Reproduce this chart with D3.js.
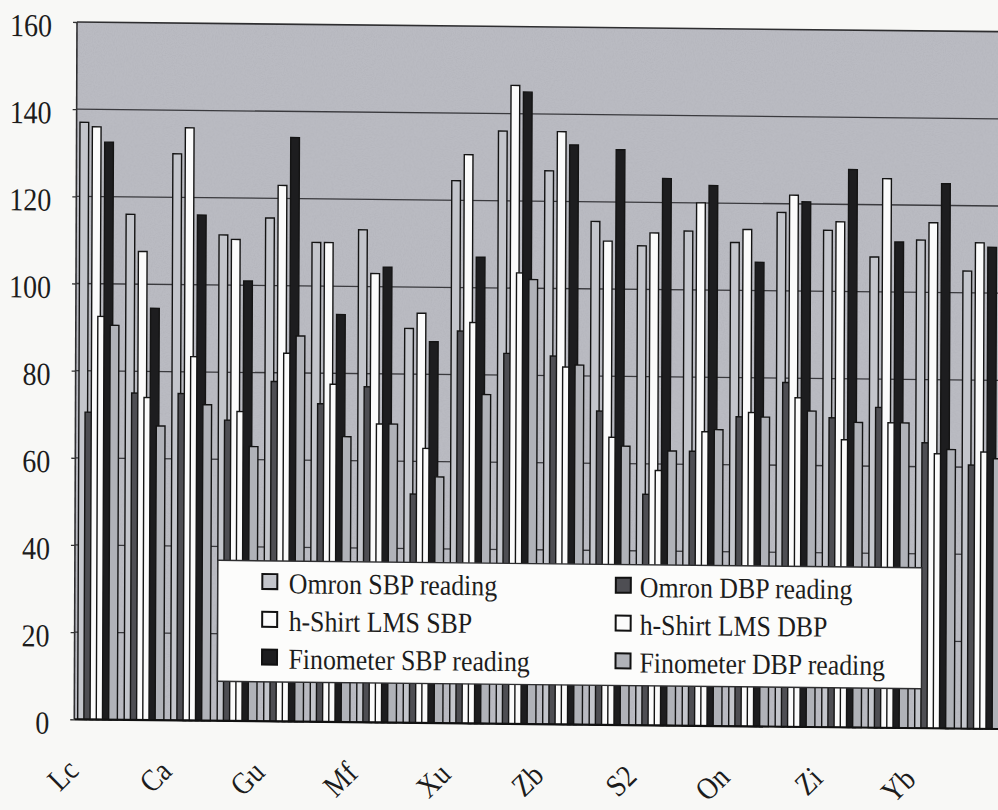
<!DOCTYPE html>
<html>
<head>
<meta charset="utf-8">
<script src="https://cdn.jsdelivr.net/npm/d3@7"></script>
<style>
  html, body { margin: 0; padding: 0; background: #f8f8f6; }
  svg { display: block; }
  svg text { font-family: "Liberation Serif", "DejaVu Serif", serif; fill: #1c1c1c; }
</style>
</head>
<body>
<svg id="chart" width="998" height="810" font-family="Liberation Serif"></svg>
<script>
// Subjects: every other category label is printed on the axis
const tickLabels = ["Lc", null, "Ca", null, "Gu", null, "Mf", null, "Xu", null,
                    "Zb", null, "S2", null, "On", null, "Zi", null, "Yb", null];

const seriesNames = ["Omron SBP reading", "Omron DBP reading",
                     "h-Shirt LMS SBP", "h-Shirt LMS DBP",
                     "Finometer SBP reading", "Finometer DBP reading"];

// Blood pressure readings (mmHg), one value per subject
const omronSBP  = [137, 116, 130, 111.5, 115.5, 110, 113, 90.5, 124.5, 136, 127, 115.5, 110, 113.5, 111, 118, 114, 108, 112, 105];
const omronDBP  = [70.5, 75, 75, 69, 78, 73, 77, 52.5, 90, 85, 84.5, 72, 53, 63, 71, 79, 71, 73.5, 65.5, 60.5];
const hshirtSBP = [136, 107.5, 136, 110.5, 123, 110, 103, 94, 130.5, 146.5, 136, 111, 113, 120, 114, 122, 116, 126, 116, 111.5];
const hshirtDBP = [92.5, 74, 83.5, 71, 84.5, 77.5, 68.5, 63, 92, 103.5, 82, 66, 58.5, 67.5, 72, 75.5, 66, 70, 63, 63.5];
const finoSBP   = [132.5, 94.5, 116, 101, 134, 93.5, 104.5, 87.5, 107, 145, 133, 132, 125.5, 124, 106.5, 120.5, 128, 111.5, 125, 110.5];
const finoDBP   = [90.5, 67.5, 72.5, 63, 88.5, 65.5, 68.5, 56.5, 75.5, 102, 82.5, 64, 63, 68, 71, 72.5, 70, 70, 64, 62];

const yTicks = [0, 20, 40, 60, 80, 100, 120, 140, 160];

const series = [omronSBP, omronDBP, hshirtSBP, hshirtDBP, finoSBP, finoDBP];
const fills  = ["#c3c5cb", "#4e4e53", "#fbfbfb", "#fbfbfb", "#1d1d1f", "#b0b2b8"];

// ---- layout ----
const plotLeft = 77, plotTop = 22, plotBottom = 719.3, catW = 46.5, nCat = tickLabels.length;
const serif = "'Liberation Serif', 'DejaVu Serif', serif";
const squeeze = 0.875;   // narrow the serif face horizontally

const svg = d3.select("#chart");

// fine grain for the plot-area fill
const defs = svg.append("defs");
const grain = defs.append("filter").attr("id", "grain").attr("x", 0).attr("y", 0).attr("width", 1).attr("height", 1);
grain.append("feTurbulence").attr("type", "fractalNoise").attr("baseFrequency", 0.9).attr("numOctaves", 2).attr("seed", 4).attr("result", "n");
grain.append("feColorMatrix").attr("in", "n").attr("type", "matrix")
  .attr("values", "0 0 0 0 0.3  0 0 0 0 0.3  0 0 0 0 0.33  0 0 0 -1.1 0.65");

// whole figure sits with a slight skew
const g = svg.append("g")
  .attr("transform", `translate(${plotLeft},${plotTop}) matrix(1,0.0105,-0.0039,1,0,0) translate(${-plotLeft},${-plotTop})`);

const x = d3.scaleBand().domain(d3.range(nCat)).range([plotLeft, plotLeft + nCat * catW]).padding(0);
const y = d3.scaleLinear().domain([0, 160]).range([plotBottom, plotTop]);
const bw = x.bandwidth();
// overlapping clustered columns inside each category
const sub = d3.scaleLinear().domain([0, 5]).range([bw * 0.073, bw * (0.073 + 5 * 0.1333)]);
const barW = bw * 0.187;
const plotRight = x.range()[1] + 10;

// plot area
g.append("rect")
  .attr("x", plotLeft).attr("y", y(160))
  .attr("width", plotRight - plotLeft).attr("height", y(0) - y(160))
  .attr("fill", "#babbc2");
g.append("rect")
  .attr("x", plotLeft).attr("y", y(160))
  .attr("width", plotRight - plotLeft).attr("height", y(0) - y(160))
  .attr("filter", "url(#grain)").attr("opacity", 0.35);

// horizontal gridlines
g.append("g").selectAll("line")
  .data(yTicks.filter(v => v > 0 && v < 160))
  .join("line")
  .attr("x1", plotLeft).attr("x2", plotRight)
  .attr("y1", d => y(d)).attr("y2", d => y(d))
  .attr("stroke", "#3a3a3e").attr("stroke-width", 1.3);

// frame: top and left edges
g.append("line").attr("x1", plotLeft).attr("x2", plotRight).attr("y1", y(160)).attr("y2", y(160))
  .attr("stroke", "#2e2e30").attr("stroke-width", 1.6);
g.append("line").attr("x1", plotLeft).attr("x2", plotLeft).attr("y1", y(160)).attr("y2", y(0))
  .attr("stroke", "#2e2e30").attr("stroke-width", 1.6);

// bars, series drawn in order so later ones overlap earlier ones
series.forEach((vals, si) => {
  g.append("g").selectAll("rect")
    .data(vals)
    .join("rect")
    .attr("x", (d, i) => x(i) + sub(si))
    .attr("y", d => y(d))
    .attr("width", barW)
    .attr("height", d => y(0) - y(d))
    .attr("fill", fills[si])
    .attr("stroke", "#141414")
    .attr("stroke-width", 1.4);
});

// baseline
g.append("line").attr("x1", plotLeft).attr("x2", plotRight).attr("y1", y(0)).attr("y2", y(0))
  .attr("stroke", "#111").attr("stroke-width", 2.2);

// y axis
const yAxis = g.append("g").attr("transform", `translate(${plotLeft},0)`)
  .call(d3.axisLeft(y).tickValues(yTicks).tickSize(4).tickPadding(21))
  .attr("font-family", serif).attr("font-size", 32);
yAxis.select(".domain").remove();
yAxis.selectAll(".tick line").attr("stroke", "#333").attr("stroke-width", 1.3);
yAxis.selectAll(".tick text")
  .attr("x", -25 / squeeze)
  .attr("dy", "0.44em")
  .attr("transform", `scale(${squeeze},1)`)
  .attr("fill", "#1c1c1c");

// x axis labels, rotated
const xAxis = g.append("g").attr("transform", `translate(0,${y(0)})`)
  .call(d3.axisBottom(x).tickSize(0).tickFormat(i => tickLabels[i] ?? ""))
  .attr("font-family", serif).attr("font-size", 31);
xAxis.select(".domain").remove();
xAxis.selectAll(".tick text")
  .attr("x", 0).attr("y", 0).attr("dy", 0)
  .attr("text-anchor", "end")
  .attr("transform", `translate(-17,53) rotate(-45) scale(${squeeze},1)`)
  .attr("fill", "#1c1c1c");

// legend
const legend = g.append("g").attr("font-family", serif).attr("font-size", 29);
legend.append("rect")
  .attr("x", 220).attr("y", 558.8).attr("width", 704).attr("height", 121)
  .attr("fill", "#fcfcfb").attr("stroke", "#2e2e30").attr("stroke-width", 1.4);

const colX = [264.5, 618], textX = [291, 642], rowY0 = 579.5, rowStep = 37.8;
seriesNames.forEach((name, k) => {
  const col = k % 2, row = Math.floor(k / 2);
  const cy = rowY0 + row * rowStep;
  legend.append("rect")
    .attr("x", colX[col]).attr("y", cy - 7.5)
    .attr("width", 15).attr("height", 15)
    .attr("fill", fills[k]).attr("stroke", "#111").attr("stroke-width", 2);
  legend.append("g")
    .attr("transform", `translate(${textX[col]},${cy + 11.5}) scale(0.89,1)`)
    .append("text")
    .attr("x", 0).attr("y", 0)
    .text(name);
});
</script>
</body>
</html>
